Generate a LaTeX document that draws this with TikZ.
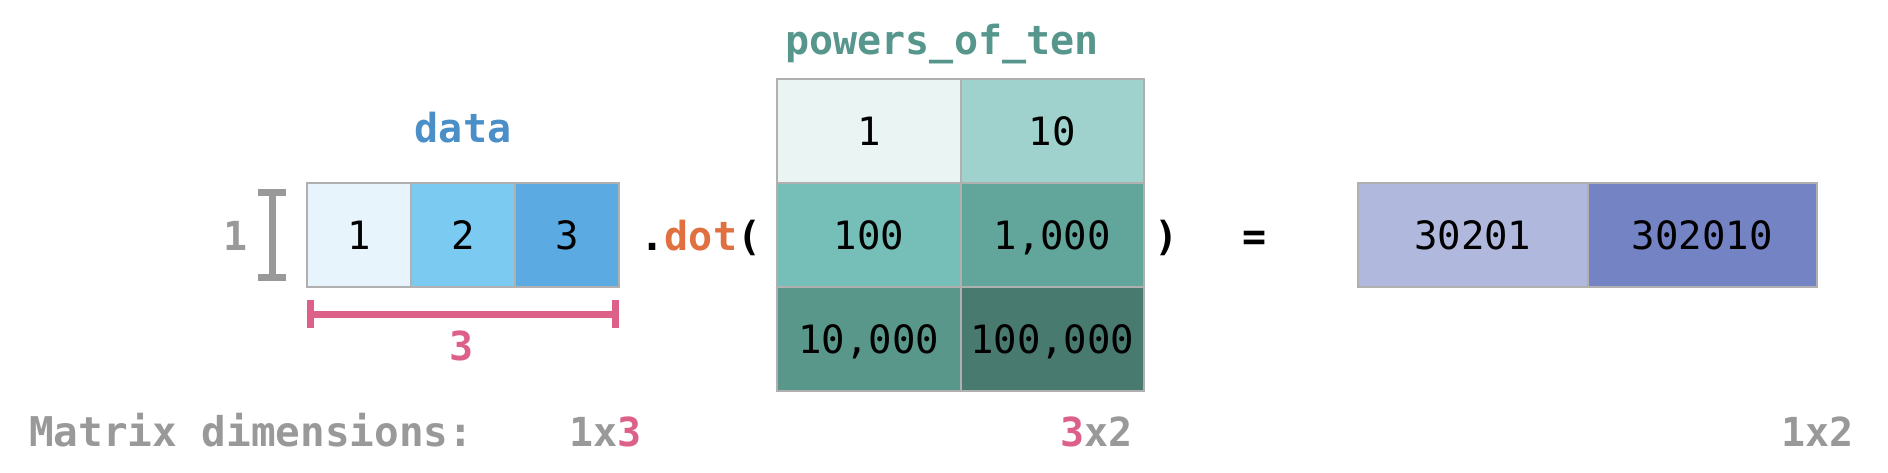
\documentclass[tikz,border=0pt]{standalone}
\usepackage{fontspec}
\setmonofont{DejaVu Sans Mono}
\usetikzlibrary{arrows.meta}

\definecolor{dataA}{HTML}{E8F4FB}
\definecolor{dataB}{HTML}{7ACAF2}
\definecolor{dataC}{HTML}{5CAAE2}
\definecolor{ptA}{HTML}{EAF4F2}
\definecolor{ptB}{HTML}{A0D2CD}
\definecolor{ptC}{HTML}{75BFB8}
\definecolor{ptD}{HTML}{62A59A}
\definecolor{ptE}{HTML}{5A978B}
\definecolor{ptF}{HTML}{487A70}
\definecolor{resA}{HTML}{B0B8DE}
\definecolor{resB}{HTML}{7483C4}
\definecolor{cellline}{HTML}{B0B0B0}
\definecolor{datablue}{HTML}{4A8FC8}
\definecolor{tealtitle}{HTML}{57968C}
\definecolor{dimpink}{HTML}{DC6088}
\definecolor{dimgray}{HTML}{999999}
\definecolor{dotorange}{HTML}{E07040}

\begin{document}
\begin{tikzpicture}[x=5pt,y=5pt,
  cellbox/.style={draw=cellline,line width=1pt,inner sep=0pt,outer sep=0pt,
    minimum height=52pt,text=black,text depth=0pt,
    font=\ttfamily\fontsize{19.5}{23}\selectfont},
  codetext/.style={font=\ttfamily\bfseries\fontsize{20}{24}\selectfont,anchor=base},
  dimbar/.style={line width=3.5pt,{Bar[width=14pt]}-{Bar[width=14pt]}}]

\useasboundingbox (0,0) rectangle (188.8,47.2);

% Left operand: the 1x3 data row.
\node[codetext,text=datablue] (datatitle) at (46.3,32.9) {data};
\foreach \v/\c [count=\i] in {1/dataA,2/dataB,3/dataC}
  \node[cellbox,fill=\c,minimum width=52pt] (d\i) at ({25.5+10.4*\i},23.7) {\v};

% Size markers: one row tall, three columns wide.
\draw[dimbar,draw=dimgray] ([xshift=-17.5pt,yshift=-3pt]d1.north west)
  -- ([xshift=-17.5pt,yshift=3pt]d1.south west);
\node[codetext,text=dimgray] (nrows) at (23.6,22.2) {1};
\draw[dimbar,draw=dimpink] ([yshift=-13.5pt]d1.south west)
  -- ([yshift=-13.5pt]d3.south east);
\node[codetext,text=dimpink] (ncols) at (46.2,11.2) {3};

% The call itself.
\node[codetext] (call) at (70.1,22.2) {.\textcolor{dotorange}{dot}(};

% Right operand: the 3x2 powers_of_ten matrix.
\node[codetext,text=tealtitle] (powtitle) at (94.2,41.7) {powers\_of\_ten};
\foreach \r/\a/\b/\ca/\cb in
  {1/1/10/ptA/ptB,2/100/{1,000}/ptC/ptD,3/{10,000}/{100,000}/ptE/ptF}
{
  \node[cellbox,fill=\ca,minimum width=91.75pt] (p\r1) at (86.875,{44.5-10.4*\r}) {\a};
  \node[cellbox,fill=\cb,minimum width=91.75pt] (p\r2) at (105.225,{44.5-10.4*\r}) {\b};
}
\node[codetext] (close) at (116.7,22.2) {)};
\node[codetext] (equals) at (125.5,22.2) {=};

% Result: the 1x2 product.
\node[cellbox,fill=resA,minimum width=114.75pt] (r1) at (147.275,23.7) {30201};
\node[cellbox,fill=resB,minimum width=114.75pt] (r2) at (170.225,23.7) {302010};

% Shape bookkeeping along the bottom.
\node[codetext,anchor=base west,text=dimgray,
  font=\ttfamily\bfseries\fontsize{20.5}{24}\selectfont] (dimtitle) at (2.2,2.6)
  {Matrix dimensions:};
\node[codetext,anchor=base east,text=dimgray] (datadim) at (64.9,2.6)
  {1x\textcolor{dimpink}{3}};
\node[codetext,anchor=base east,text=dimgray] (powdim) at (114.0,2.6)
  {\textcolor{dimpink}{3}x2};
\node[codetext,anchor=base east,text=dimgray] (resdim) at (186.1,2.6) {1x2};
\end{tikzpicture}
\end{document}
